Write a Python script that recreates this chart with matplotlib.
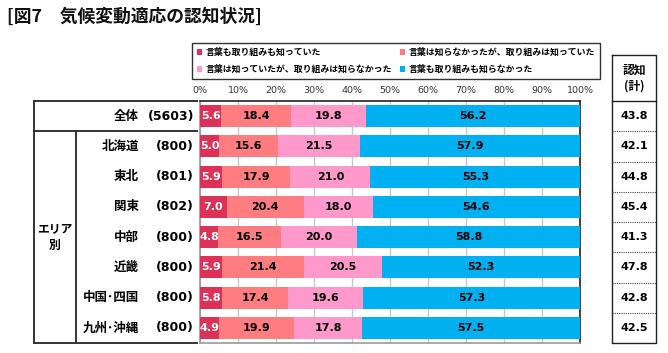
import matplotlib
matplotlib.use('Agg')
import matplotlib.pyplot as plt
from matplotlib.lines import Line2D

plt.rcParams['font.family'] = ['Noto Sans CJK JP', 'DejaVu Sans']

W, H = 668, 353

# data
categories = ['全体', '北海道', '東北', '関東', '中部', '近畿', '中国･四国', '九州･沖縄']
counts = [5603, 800, 801, 802, 800, 800, 800, 800]
both_known = [5.6, 5.0, 5.9, 7.0, 4.8, 5.9, 5.8, 4.9]
action_only = [18.4, 15.6, 17.9, 20.4, 16.5, 21.4, 17.4, 19.9]
word_only = [19.8, 21.5, 21.0, 18.0, 20.0, 20.5, 19.6, 17.8]
neither = [56.2, 57.9, 55.3, 54.6, 58.8, 52.3, 57.3, 57.5]
aware_total = [43.8, 42.1, 44.8, 45.4, 41.3, 47.8, 42.8, 42.5]

series_names = ['言葉も取り組みも知っていた',
                '言葉は知らなかったが、取り組みは知っていた',
                '言葉は知っていたが、取り組みは知らなかった',
                '言葉も取り組みも知らなかった']
colors = ['#DE3158', '#FF7D80', '#FF99CC', '#00B0F0']
text_colors = ['white', 'black', 'black', 'black']


def fx(x):
    return x / W


def fy(y):
    return 1 - y / H


fig = plt.figure(figsize=(W / 100, H / 100), dpi=100)
fig.patch.set_facecolor('white')

# plot area
top, bottom, left, right = 101, 343, 200, 580
ax = fig.add_axes([fx(left), fy(bottom), fx(right) - fx(left), (bottom - top) / H])
n = len(categories)
ys = list(range(n))
series = [both_known, action_only, word_only, neither]
lefts = [0.0] * n
handles = []
for vals, c, tc, name in zip(series, colors, text_colors, series_names):
    bars = ax.barh(ys, vals, left=lefts, height=0.73, color=c, zorder=3, label=name)
    handles.append(bars)
    for y, v, l in zip(ys, vals, lefts):
        ax.text(l + v / 2, y, f'{v:.1f}', ha='center', va='center', color=tc,
                fontsize=8, fontweight='bold', family='DejaVu Sans', zorder=4)
    lefts = [a + b for a, b in zip(lefts, vals)]

ax.set_xlim(0, 100)
ax.set_ylim(n - 0.5, -0.5)
ax.set_xticks(range(0, 101, 10))
ax.set_xticklabels([f'{t}%' for t in range(0, 101, 10)], fontsize=6.8, color='#333333',
                   family='DejaVu Sans')
ax.xaxis.tick_top()
ax.tick_params(axis='x', length=0, pad=4)
ax.set_yticks([])
ax.grid(axis='x', color='#c8c8c8', linewidth=1, zorder=0)
for side in ['top', 'right']:
    ax.spines[side].set_color('#222222')
for side in ['left', 'bottom']:
    ax.spines[side].set_color('#999999')
for s in ax.spines.values():
    s.set_linewidth(1.2)

# legend
order = [0, 2, 1, 3]
leg = fig.legend([handles[i] for i in order], [series_names[i] for i in order],
                 ncol=2, loc='upper left', bbox_to_anchor=(fx(192), fy(43)),
                 fontsize=6.4, frameon=True, fancybox=False, edgecolor='black',
                 handlelength=0.6, handleheight=0.6, handletextpad=0.4,
                 columnspacing=0.9, borderpad=0.55, labelspacing=0.85, borderaxespad=0)
leg.get_frame().set_linewidth(1.0)
for t in leg.get_texts():
    t.set_fontweight('bold')

# title
fig.text(fx(7), fy(17), '[図7　気候変動適応の認知状況]', fontsize=12.8, fontweight='bold',
         va='center', ha='left', color='#111111')

# left table
row_h = (bottom - top) / n
lw = 1.4
lc = '#333333'
fig.add_artist(Line2D([fx(34), fx(197)], [fy(top), fy(top)], color=lc, lw=lw))
fig.add_artist(Line2D([fx(34), fx(197)], [fy(top + row_h), fy(top + row_h)], color=lc, lw=lw))
fig.add_artist(Line2D([fx(34), fx(197)], [fy(bottom), fy(bottom)], color=lc, lw=lw))
fig.add_artist(Line2D([fx(34), fx(34)], [fy(top), fy(bottom)], color=lc, lw=lw))
fig.add_artist(Line2D([fx(76), fx(76)], [fy(top + row_h), fy(bottom)], color=lc, lw=lw))

for i, (cat, cnt) in enumerate(zip(categories, counts)):
    yc = fy(top + row_h * (i + 0.5))
    fig.text(fx(139), yc, cat, ha='right', va='center', fontsize=9, fontweight='bold')
    fig.text(fx(194), yc, f'({cnt})', ha='right', va='center', fontsize=9,
             fontweight='bold', family='DejaVu Sans')
fig.text(fx(55), fy(237), 'エリア\n別', ha='center', va='center', fontsize=8.5,
         fontweight='bold', linespacing=1.3)

# right table
rl, rr, rtop = 612, 656, 55
fig.add_artist(Line2D([fx(rl), fx(rr), fx(rr), fx(rl), fx(rl)],
                      [fy(rtop), fy(rtop), fy(bottom), fy(bottom), fy(rtop)],
                      color='#222222', lw=1.0))
fig.add_artist(Line2D([fx(rl), fx(rr)], [fy(top), fy(top)], color='#222222', lw=1.0))
for i in range(1, n):
    yy = fy(top + row_h * i)
    fig.add_artist(Line2D([fx(rl), fx(rr)], [yy, yy], color='#444444', lw=0.8,
                          linestyle=(0, (1, 1))))
fig.text(fx(634), fy(70), '認知', ha='center', va='center', fontsize=8.5, fontweight='bold')
fig.text(fx(634), fy(86), '(計)', ha='center', va='center', fontsize=8.5, fontweight='bold')
for i, v in enumerate(aware_total):
    fig.text(fx(634), fy(top + row_h * (i + 0.5)), f'{v:.1f}', ha='center', va='center',
             fontsize=8, fontweight='bold', family='DejaVu Sans')

fig.savefig('out.png', dpi=100)
